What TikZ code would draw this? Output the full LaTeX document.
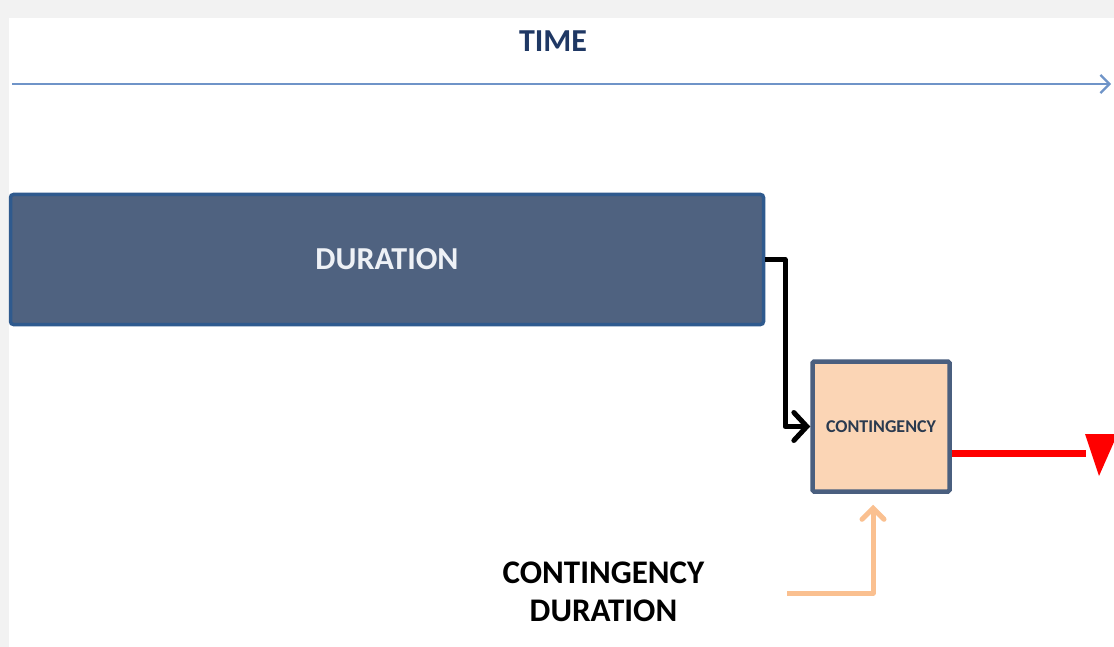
\documentclass[tikz,border=0pt]{standalone}
\usepackage{fontspec}
\setmainfont{Carlito}
\usetikzlibrary{arrows.meta}
\definecolor{bgGray}{HTML}{F2F2F2}
\definecolor{timeBlue}{HTML}{6F94C8}
\definecolor{navyText}{HTML}{1F3864}
\definecolor{durFill}{HTML}{4F6280}
\definecolor{durEdge}{HTML}{2F5A8E}
\definecolor{contFill}{HTML}{FBD5B5}
\definecolor{contEdge}{HTML}{4A5F7F}
\definecolor{peach}{HTML}{FAC090}
\definecolor{redLine}{HTML}{FF0000}
\definecolor{durText}{HTML}{EEF1F6}
\definecolor{contText}{HTML}{2A3A4F}
\tikzset{
  durbox/.style={draw=durEdge, line width=3.5pt, fill=durFill, rounded corners=3pt,
    minimum width=753pt, minimum height=130pt, inner sep=0pt},
  contbox/.style={draw=contEdge, line width=4.5pt, fill=contFill, rounded corners=1.5pt,
    minimum width=137pt, minimum height=130pt, inner sep=0pt},
  blkconn/.style={black, line width=5pt, line join=round,
    -{Straight Barb[length=13pt,width=28pt,line cap=round]}},
  peachconn/.style={peach, line width=5pt, line join=round,
    -{Straight Barb[length=11pt,width=22pt,line cap=round]}},
  timeconn/.style={timeBlue, line width=2.3pt, -{Straight Barb[length=9pt,width=18pt]}},
  redconn/.style={redLine, line width=7pt},
}
\begin{document}
\begin{tikzpicture}[x=1pt,y=-1pt]
\useasboundingbox (0,0) rectangle (1114,647);
\fill[bgGray] (0,0) rectangle (1114,647);
\fill[white] (9,18) rectangle (1114,647);

\node[text=navyText, font=\fontsize{32}{38}\selectfont\bfseries] (time) at (553,41) {TIME};
\coordinate (tstart) at (12,84);
\coordinate (tend) at (1111,84);
\draw[timeconn] (tstart) -- (tend);

\node[durbox, text=durText, font=\fontsize{32}{38}\selectfont\bfseries] (dur) at (387,259.5) {DURATION};
\node[contbox, text=contText, font=\fontsize{18}{22}\selectfont\bfseries] (cont) at (881,426.5) {CONTINGENCY};

\coordinate (bend) at (785,259.5);
\draw[blkconn] (dur.east) -- (bend) |- (cont.west);

\coordinate (redtip) at (1086,453);
\draw[redconn] ([yshift=-26.5pt]cont.east) -- (redtip);
\fill[redLine] (1085,434) -- (1114,434) -- (1114,442) -- (1099,476) -- cycle;

\node[align=center, text=black, font=\fontsize{33}{38}\selectfont\bfseries] (clabel) at (603.5,592) {CONTINGENCY\\DURATION};
\coordinate (pstart) at (787,593);
\draw[peachconn, shorten >=11pt] (pstart) -| ([xshift=-8pt]cont.south);
\end{tikzpicture}
\end{document}
